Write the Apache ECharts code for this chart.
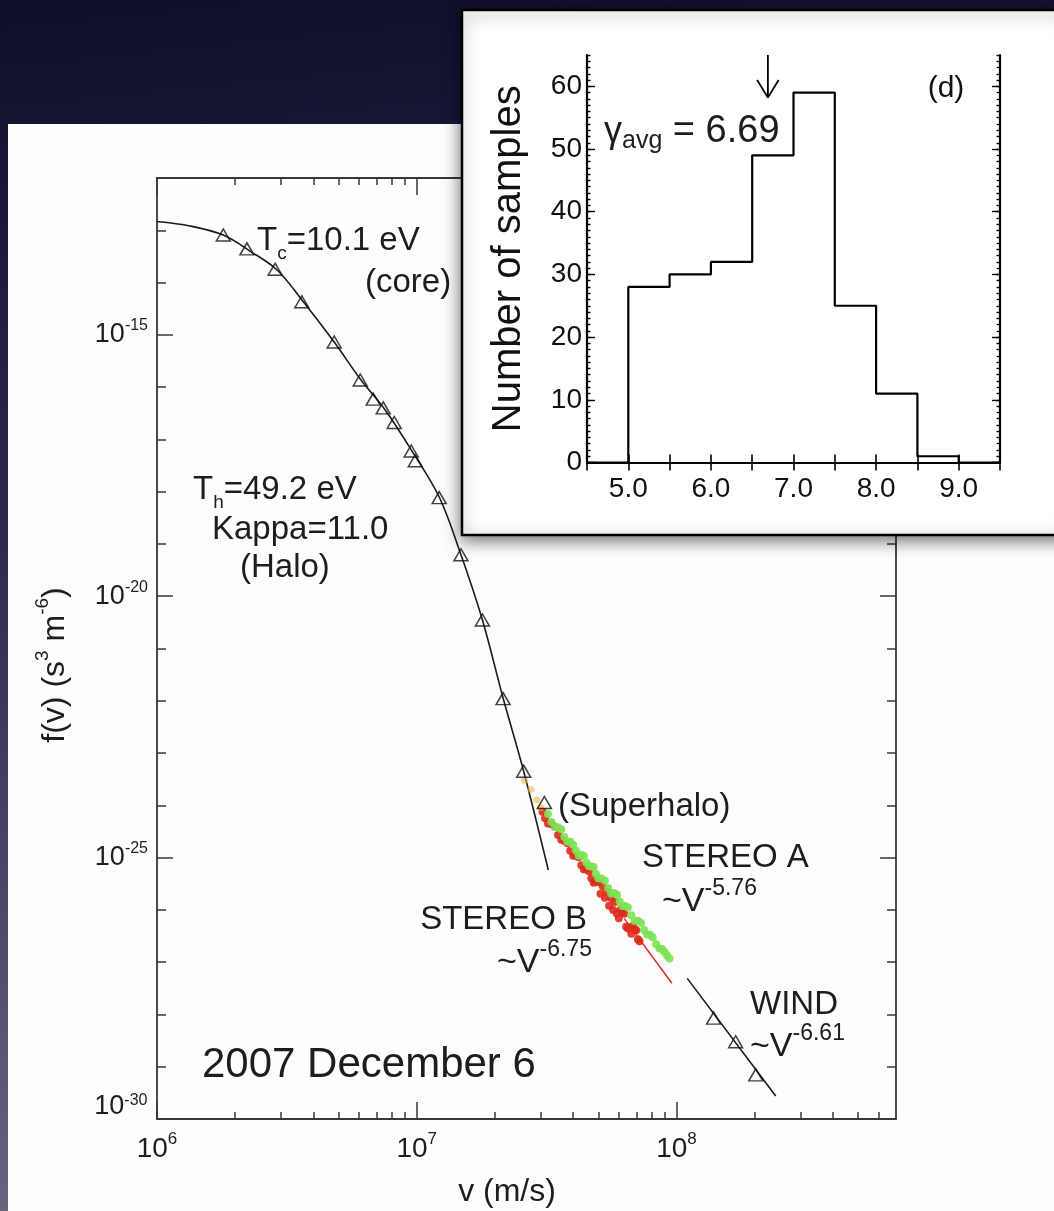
<!DOCTYPE html>
<html>
<head>
<meta charset="utf-8">
<title>Electron velocity distribution, 2007 December 6</title>
<script src="https://cdn.jsdelivr.net/npm/echarts@6/dist/echarts.min.js"></script>
<style>
  html, body { margin: 0; padding: 0; background: #10112c; }
  #chart { width: 1054px; height: 1211px; }
</style>
</head>
<body>
<div id="chart"></div>
<script>
// ---------------- data ----------------
// Core + halo electron measurements (open triangles): speed v (m/s) and f(v) (s^3 m^-6)
const coreHaloV = [1.80e6, 2.22e6, 2.85e6, 3.61e6, 4.81e6, 6.06e6, 6.80e6, 7.43e6, 8.19e6, 9.52e6, 9.87e6, 1.22e7, 1.48e7, 1.79e7, 2.15e7, 2.58e7];
const coreHaloF = [8.1e-14, 4.4e-14, 1.8e-14, 4.3e-15, 7.3e-16, 1.37e-16, 5.9e-17, 4.0e-17, 2.1e-17, 6.0e-18, 3.9e-18, 7.7e-19, 6.2e-20, 3.5e-21, 1.1e-22, 4.5e-24];
// Superhalo point
const superhaloV = [3.10e7];
const superhaloF = [1.13e-24];

// Core (Maxwellian) + halo (kappa) model curve
const coreFitV = [1.0e6, 1.34e6, 1.80e6, 2.28e6, 2.90e6, 3.62e6, 4.81e6, 6.06e6, 7.56e6, 9.52e6, 1.22e7, 1.48e7, 1.79e7, 2.15e7, 2.58e7, 3.21e7];
const coreFitF = [1.47e-13, 1.21e-13, 8.1e-14, 4.0e-14, 1.74e-14, 4.6e-15, 7.3e-16, 1.43e-16, 3.65e-17, 6.3e-18, 7.9e-19, 6.2e-20, 3.5e-21, 1.13e-22, 4.5e-24, 5.8e-26];

// STEREO A superhalo samples (green)
const stereoAV = [3.2e7, 3.3e7, 3.4e7, 3.5e7, 3.6e7, 3.7e7, 3.8e7, 3.9e7, 4.0e7, 4.1e7, 4.2e7, 4.3e7, 4.4e7, 4.5e7, 4.6e7, 4.7e7, 4.8e7, 4.9e7, 5.0e7, 5.15e7,
                  5.3e7, 5.45e7, 5.6e7, 5.75e7, 5.9e7, 6.05e7, 6.2e7, 6.35e7, 6.5e7, 6.7e7, 6.9e7, 7.1e7, 7.3e7, 7.5e7, 7.7e7, 7.9e7, 8.1e7, 8.35e7, 8.6e7, 8.8e7,
                  9.0e7, 9.2e7, 9.4e7];
const stereoAF = [6.8e-25, 4.82e-25, 3.9e-25, 3.75e-25, 3.5e-25, 2.48e-25, 2.0e-25, 2.0e-25, 1.77e-25, 1.37e-25, 1.09e-25, 1.14e-25, 1.07e-25, 7.98e-26, 6.8e-26, 6.79e-26, 6.6e-26, 4.86e-26, 4.0e-26, 4.0e-26,
                  3.6e-26, 2.62e-26, 2.05e-26, 2.11e-26, 1.94e-26, 1.43e-26, 1.19e-26, 1.19e-26, 1.11e-26, 7.93e-27, 6.2e-27, 6.21e-27, 5.6e-27, 4.12e-27, 3.4e-27, 3.34e-27, 3.0e-27, 2.21e-27, 1.83e-27, 1.79e-27,
                  1.57e-27, 1.32e-27, 1.17e-27];

// STEREO B superhalo samples (red)
const stereoBV = [3.05e7, 3.12e7, 3.2e7, 3.3e7, 3.4e7, 3.5e7, 3.6e7, 3.7e7, 3.8e7, 3.9e7, 4.0e7, 4.1e7, 4.2e7, 4.3e7, 4.4e7, 4.5e7, 4.6e7, 4.7e7, 4.8e7, 4.9e7,
                  5.0e7, 5.1e7, 5.2e7, 5.3e7, 5.4e7, 5.5e7, 5.6e7, 5.7e7, 5.8e7, 5.9e7, 6.0e7, 6.1e7, 6.2e7, 6.3e7, 6.4e7, 6.5e7, 6.7e7, 6.8e7, 6.9e7, 7.0e7,
                  7.1e7, 7.2e7];
const stereoBF = [7.5e-25, 5.66e-25, 4.5e-25, 4.35e-25, 3.9e-25, 2.72e-25, 2.2e-25, 2.09e-25, 1.88e-25, 1.36e-25, 1.08e-25, 1.08e-25, 1.02e-25, 7.11e-26, 5.9e-26, 6.11e-26, 5.5e-26, 4.03e-26, 3.3e-26, 3.54e-26,
                  3.4e-26, 2.03e-26, 2.84e-26, 1.71e-26, 2.23e-26, 1.20e-26, 1.69e-26, 9.95e-27, 1.42e-26, 8.4e-27, 6.9e-27, 1.02e-26, 8.9e-27, 8.4e-27, 4.74e-27, 4.4e-27, 3.5e-27, 4.99e-27, 4.2e-27, 4.1e-27,
                  2.74e-27, 2.5e-27];

// Low-energy end of the STEREO samples (orange, overlapping the superhalo point)
const stereoLowV = [2.60e7, 2.75e7, 2.90e7, 3.00e7];
const stereoLowF = [3.0e-24, 2.0e-24, 1.26e-24, 9.0e-25];

// Power-law indices quoted on the plot and where their fit lines start / end
const stereoAIndex = 5.76;
const stereoBIndex = 6.75;
const stereoBFitStart = [6.3e7, 6.8e-27];
const stereoBFitEndV = 9.6e7;
const windIndex = 6.61;
const windFitStart = [1.10e8, 4.9e-28];
const windFitEndV = 2.41e8;

// WIND measurements
const windV = [1.39e8, 1.69e8, 2.02e8];
const windF = [8.5e-29, 3.0e-29, 7.0e-30];

// Tick label exponents of the log-log axes
const xTickExponents = [6, 7, 8];
const yTickExponents = [-30, -25, -20, -15];
const vMin = 1e6, vMax = 7e8, fMin = 1e-30, fMax = 1e-12;

// Histogram of the superhalo power-law index (inset)
const binLeft = [5.0, 5.5, 6.0, 6.5, 7.0, 7.5, 8.0, 8.5];
const binCounts = [28, 30, 32, 49, 59, 25, 11, 1];
const binWidth = 0.5;
const gammaAvg = 6.69;
const histXTickLabels = [5.0, 6.0, 7.0, 8.0, 9.0];
const histYTickLabels = [0, 10, 20, 30, 40, 50, 60];

// ---------------- helpers ----------------
const lg = Math.log10;
const pts = (vs, fs) => vs.map((v, i) => [lg(v), lg(fs[i])]);
const powerLine = (start, endV, index) => [
  [lg(start[0]), lg(start[1])],
  [lg(endV), lg(start[1]) - index * (lg(endV) - lg(start[0]))]
];

const X_MIN = lg(vMin), X_MAX = lg(vMax);
const Y_MIN = lg(fMin), Y_MAX = lg(fMax);

const xMinorTicks = [];
for (let n = Math.floor(X_MIN); n <= Math.floor(X_MAX); n++) {
  for (let k = 2; k <= 9; k++) {
    const t = n + lg(k);
    if (t < X_MAX - 1e-9) xMinorTicks.push(t);
  }
}
const yMinorTicks = [];
for (let e = Y_MIN; e <= Y_MAX; e++) yMinorTicks.push(e);

const histMinorTicks = [];
for (let c = 0; c <= 65; c++) histMinorTicks.push(c);

// histogram outline built from the bins
const histOutline = [[4.5, 0], [binLeft[0], 0]];
binLeft.forEach((x, i) => { histOutline.push([x, binCounts[i]]); histOutline.push([x + binWidth, binCounts[i]]); });
const lastEdge = binLeft[binLeft.length - 1] + binWidth;
histOutline.push([lastEdge, 0]);
histOutline.push([9.5, 0]);

// ---------------- styling ----------------
const FONT = '"Liberation Sans", Arial, Helvetica, sans-serif';
const INK = '#1d1d1d';
const FRAME = '#383838';

const supRich = (size, supSize, lh) => ({
  b: { fontSize: size, lineHeight: lh, fontFamily: FONT, color: INK },
  s: { fontSize: supSize, verticalAlign: 'top', fontFamily: FONT, color: INK },
  // lowest label sits a little higher than its tick
  bl: { fontSize: size, lineHeight: lh, verticalAlign: 'top', fontFamily: FONT, color: INK },
  sl: { fontSize: supSize, lineHeight: supSize + 4, verticalAlign: 'top', fontFamily: FONT, color: INK },
  sp: { fontSize: 2, lineHeight: lh + 18, verticalAlign: 'top', color: 'rgba(0,0,0,0)' }
});

function mainXAxis(position, ticks, len, withLine, withLabels) {
  return {
    type: 'value', gridIndex: 0, position, min: X_MIN, max: X_MAX,
    axisLine: { show: withLine, lineStyle: { color: FRAME, width: 1.8 } },
    axisTick: { show: true, inside: true, length: len, customValues: ticks, lineStyle: { color: FRAME, width: 1.5 } },
    axisLabel: withLabels ? {
      show: true, customValues: xTickExponents, margin: 12,
      formatter: v => '{b|10}{s|' + Math.round(v) + '}',
      rich: supRich(28, 17, 36)
    } : { show: false },
    splitLine: { show: false }, z: 1
  };
}
function mainYAxis(position, ticks, len, withLine, withLabels) {
  return {
    type: 'value', gridIndex: 0, position, min: Y_MIN, max: Y_MAX,
    axisLine: { show: withLine, lineStyle: { color: FRAME, width: 1.8 } },
    axisTick: { show: true, inside: true, length: len, customValues: ticks, lineStyle: { color: FRAME, width: 1.5 } },
    axisLabel: withLabels ? {
      show: true, customValues: yTickExponents, margin: 9,
      formatter: v => {
        const e = Math.round(v);
        return e === Math.round(Y_MIN) ? '{bl|10}{sl|' + e + '}{sp| }' : '{b|10}{s|' + e + '}';
      },
      rich: supRich(27, 16, 34)
    } : { show: false },
    splitLine: { show: false }, z: 1
  };
}
function histXAxis(position, withLabels) {
  return {
    type: 'value', gridIndex: 1, position, min: 4.5, max: 9.5, interval: 0.5,
    axisLine: { show: true, lineStyle: { color: '#000', width: 2.2 } },
    axisTick: { show: true, inside: true, length: 8, lineStyle: { color: '#000', width: 1.6 } },
    axisLabel: withLabels ? {
      show: true, customValues: histXTickLabels, margin: 13, fontSize: 28, fontFamily: FONT, color: '#111',
      formatter: v => v.toFixed(1)
    } : { show: false },
    splitLine: { show: false }, z: 25
  };
}
function histYAxis(position, ticks, len, withLine, withLabels, name) {
  const ax = {
    type: 'value', gridIndex: 1, position, min: 0, max: 65,
    axisLine: { show: withLine, lineStyle: { color: '#000', width: 2.2 } },
    axisTick: { show: true, inside: true, length: len, customValues: ticks, lineStyle: { color: '#000', width: 1.4 } },
    axisLabel: withLabels ? {
      show: true, customValues: histYTickLabels, margin: 5, fontSize: 28, fontFamily: FONT, color: '#111'
    } : { show: false },
    splitLine: { show: false }, z: 25
  };
  if (name) {
    ax.name = name;
    ax.nameLocation = 'middle';
    ax.nameGap = 58;
    ax.nameTextStyle = { fontSize: 40, fontFamily: FONT, color: '#111' };
  }
  return ax;
}

// ---------------- text annotations ----------------
function txt(x, y, text, opts) {
  opts = opts || {};
  return {
    type: 'text', x, y, z: opts.z || 5, rotation: opts.rotation || 0, silent: true,
    style: {
      text, fontFamily: FONT, fontSize: opts.size || 33, fill: opts.color || INK,
      align: opts.align || 'left', verticalAlign: 'middle', rich: opts.rich
    }
  };
}
const annRich = (size, small, lh) => ({
  m: { fontSize: size, lineHeight: lh, fontFamily: FONT, color: INK },
  p: { fontSize: small, verticalAlign: 'top', fontFamily: FONT, color: INK },
  d: { fontSize: small, verticalAlign: 'bottom', fontFamily: FONT, color: INK }
});
const R33 = annRich(33, 19, 44);
const RSUP = annRich(34, 23, 50);
const fmtIdx = k => '-' + k.toFixed(2);

const texts = [
  txt(257, 241, '{m|T}{d|c}{m|=10.1 eV}', { rich: R33 }),
  txt(365, 283, '(core)'),
  txt(193, 490, '{m|T}{d|h}{m|=49.2 eV}', { rich: R33 }),
  txt(212, 530, 'Kappa=11.0'),
  txt(240, 568, '(Halo)'),
  txt(558, 807, '(Superhalo)'),
  txt(642, 858, 'STEREO A'),
  txt(662, 902, '{m|~V}{p|' + fmtIdx(stereoAIndex) + '}', { rich: RSUP }),
  txt(587, 920, 'STEREO B', { align: 'right' }),
  txt(497, 963, '{m|~V}{p|' + fmtIdx(stereoBIndex) + '}', { rich: RSUP }),
  txt(750, 1005, 'WIND'),
  txt(750, 1047, '{m|~V}{p|' + fmtIdx(windIndex) + '}', { rich: RSUP }),
  txt(202, 1065, '2007 December 6', { size: 42 }),
  txt(507, 1192, 'v (m/s)', { size: 32, align: 'center' }),
  txt(55, 665, '{m|f(v) (s}{p|3}{m| m}{p|-6}{m|)}', {
    align: 'center', rotation: Math.PI / 2, rich: annRich(32, 19, 44)
  }),
  // inset annotations
  txt(604, 132, '{g|\u03b3}{s|avg}{n| = ' + gammaAvg.toFixed(2) + '}', {
    z: 40,
    rich: {
      g: { fontSize: 36, lineHeight: 44, fontFamily: FONT, color: '#111' },
      s: { fontSize: 25, verticalAlign: 'bottom', fontFamily: FONT, color: '#111' },
      n: { fontSize: 38, lineHeight: 44, fontFamily: FONT, color: '#111' }
    }
  }),
  txt(946, 89, '(d)', { size: 30, align: 'center', z: 40, color: '#111' })
];

// ---------------- chart ----------------
const chart = echarts.init(document.getElementById('chart'), null, { renderer: 'canvas' });
const arrowTip = 58.2, arrowHeadBase = 61.0, arrowHalfWidth = 0.13;
const triangleStyle = { color: 'rgba(255,255,255,0)', borderColor: '#111', borderWidth: 1.5 };

chart.setOption({
  animation: false,
  backgroundColor: {
    type: 'linear', x: 0, y: 0, x2: 0.12, y2: 1,
    colorStops: [
      { offset: 0, color: '#0d0e29' },
      { offset: 0.45, color: '#2c2c4e' },
      { offset: 1, color: '#66667f' }
    ]
  },
  grid: [
    { left: 157, top: 178, width: 739, height: 941, outerBoundsMode: 'none', containLabel: false },
    { left: 587, top: 55, width: 413, height: 407.5, outerBoundsMode: 'none', containLabel: false }
  ],
  xAxis: [
    mainXAxis('bottom', xTickExponents, 17, true, true),
    mainXAxis('bottom', xMinorTicks, 7, false, false),
    mainXAxis('top', xTickExponents, 17, true, false),
    mainXAxis('top', xMinorTicks, 7, false, false),
    histXAxis('bottom', true),
    histXAxis('top', false)
  ],
  yAxis: [
    mainYAxis('left', yTickExponents, 16, true, true),
    mainYAxis('left', yMinorTicks, 9, false, false),
    mainYAxis('right', yTickExponents, 16, true, false),
    mainYAxis('right', yMinorTicks, 9, false, false),
    histYAxis('left', histYTickLabels, 8, true, true, 'Number of samples'),
    histYAxis('left', histMinorTicks, 3.5, false, false),
    histYAxis('right', histYTickLabels, 8, true, false),
    histYAxis('right', histMinorTicks, 3.5, false, false)
  ],
  graphic: {
    elements: [
      // paper sheets
      { type: 'rect', z: -1, silent: true, shape: { x: 8, y: 124, width: 1046, height: 1087 }, style: { fill: '#fdfdfd' } },
      {
        type: 'rect', z: 10, silent: true, shape: { x: 462, y: 10, width: 610, height: 525 },
        style: { fill: '#ffffff', stroke: '#000', lineWidth: 2.5, shadowBlur: 16, shadowColor: 'rgba(0,0,0,0.55)', shadowOffsetY: 4 }
      }
    ].concat(texts)
  },
  series: [
    {
      name: 'core-halo model', type: 'line', xAxisIndex: 0, yAxisIndex: 0, z: 3, silent: true,
      data: pts(coreFitV, coreFitF), showSymbol: false, smooth: 0.35,
      lineStyle: { color: '#1a1a1a', width: 1.6 }
    },
    {
      name: 'STEREO B', type: 'scatter', xAxisIndex: 0, yAxisIndex: 0, z: 4, silent: true,
      data: pts(stereoBV, stereoBF), symbol: 'circle', symbolSize: 8,
      itemStyle: { color: '#dd2a1c', opacity: 0.9 }
    },
    {
      name: 'STEREO B fit', type: 'line', xAxisIndex: 0, yAxisIndex: 0, z: 4, silent: true,
      data: powerLine(stereoBFitStart, stereoBFitEndV, stereoBIndex), showSymbol: false,
      lineStyle: { color: '#d8332a', width: 1.6 }
    },
    {
      name: 'STEREO A', type: 'scatter', xAxisIndex: 0, yAxisIndex: 0, z: 4, silent: true,
      data: pts(stereoAV, stereoAF), symbol: 'circle', symbolSize: 8,
      itemStyle: { color: '#7ce251', opacity: 0.9 }
    },
    {
      name: 'STEREO low end', type: 'scatter', xAxisIndex: 0, yAxisIndex: 0, z: 4, silent: true,
      data: pts(stereoLowV, stereoLowF), symbol: 'circle', symbolSize: 7,
      itemStyle: { color: '#f2b13c', opacity: 0.55 }
    },
    {
      name: 'WIND fit', type: 'line', xAxisIndex: 0, yAxisIndex: 0, z: 3, silent: true,
      data: powerLine(windFitStart, windFitEndV, windIndex), showSymbol: false,
      lineStyle: { color: '#1a1a1a', width: 1.6 }
    },
    {
      name: 'core-halo data', type: 'scatter', xAxisIndex: 0, yAxisIndex: 0, z: 6, silent: true,
      data: pts(coreHaloV, coreHaloF).concat(pts(superhaloV, superhaloF)),
      symbol: 'triangle', symbolSize: [14, 12], itemStyle: triangleStyle
    },
    {
      name: 'WIND data', type: 'scatter', xAxisIndex: 0, yAxisIndex: 0, z: 6, silent: true,
      data: pts(windV, windF),
      symbol: 'triangle', symbolSize: [14, 12], itemStyle: triangleStyle
    },
    // inset histogram
    {
      name: 'samples', type: 'line', xAxisIndex: 4, yAxisIndex: 4, z: 30, silent: true,
      data: histOutline, showSymbol: false,
      lineStyle: { color: '#000', width: 2.2 }
    },
    {
      name: 'mean arrow', type: 'line', xAxisIndex: 4, yAxisIndex: 4, z: 30, silent: true,
      data: [[gammaAvg, 65], [gammaAvg, arrowTip]], showSymbol: false,
      lineStyle: { color: '#000', width: 1.8 }
    },
    {
      name: 'mean arrow head', type: 'line', xAxisIndex: 4, yAxisIndex: 4, z: 30, silent: true,
      data: [[gammaAvg - arrowHalfWidth, arrowHeadBase], [gammaAvg, arrowTip], [gammaAvg + arrowHalfWidth, arrowHeadBase]],
      showSymbol: false, lineStyle: { color: '#000', width: 1.8 }
    }
  ]
});
</script>
</body>
</html>
